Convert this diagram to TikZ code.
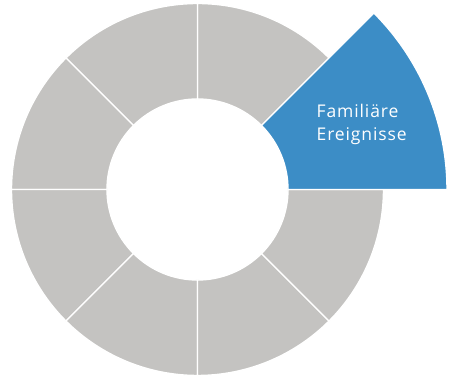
\documentclass[tikz,border=0pt]{standalone}
\usepackage{fontspec}
\setmainfont{Open Sans}
\newfontfamily\lblfont[LetterSpace=5]{Open Sans}
\definecolor{ringgray}{HTML}{C4C3C1}
\definecolor{ringblue}{HTML}{3C8DC6}
\tikzset{
  sector/.style={fill=ringgray, draw=white, line width=1.4pt, line join=miter},
  hilite/.style={fill=ringblue, draw=white, line width=1.4pt, line join=miter},
  lbl/.style={text=white, font=\lblfont\fontsize{17.5}{23}\selectfont, inner sep=0pt, anchor=base west}
}
\begin{document}
\begin{tikzpicture}[x=1pt,y=1pt]
\useasboundingbox (0,0) rectangle (451,377);
\coordinate (c) at (197.5,187.5);
\begin{scope}[shift={(c)}]
  \foreach \a in {45,90,135,180,225,270,315} {
    \pgfmathsetmacro{\b}{\a+45}
    \path[sector] (\a:90.5pt) -- (\a:186pt) arc[start angle=\a, end angle=\b, radius=186pt]
      -- (\b:90.5pt) arc[start angle=\b, end angle=\a, radius=90.5pt] -- cycle;
  }
  \path[hilite] (0:90.5pt) -- (0:249.5pt) arc[start angle=0, end angle=45, radius=249.5pt]
      -- (45:90.5pt) arc[start angle=45, end angle=0, radius=90.5pt] -- cycle;
\end{scope}
\node[lbl] (fam1) at (316.5,259.7) {Familiäre};
\node[lbl] (fam2) at (316.5,236.3) {Ereignisse};
\end{tikzpicture}
\end{document}
